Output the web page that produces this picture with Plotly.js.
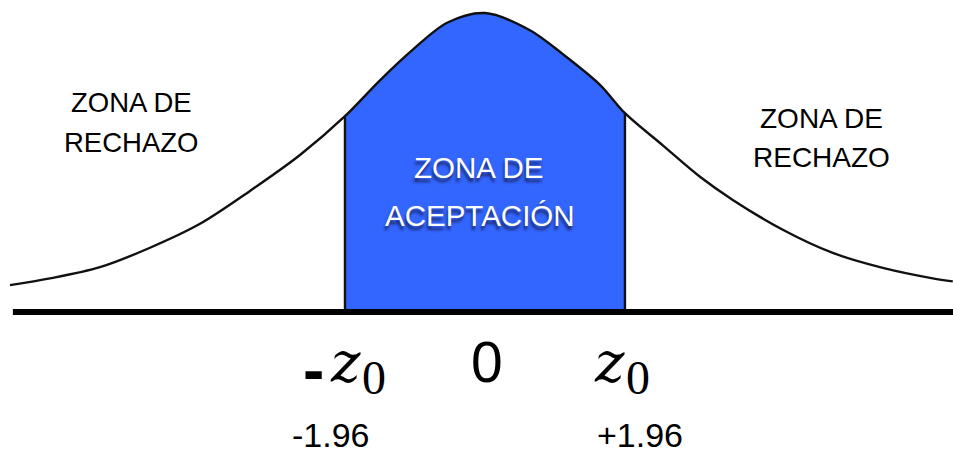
<!DOCTYPE html>
<html>
<head>
<meta charset="utf-8">
<script src="https://cdn.plot.ly/plotly-3.0.1.min.js"></script>
<style>
  html, body { margin: 0; padding: 0; background: #fff; }
  #chart { width: 953px; height: 456px; }
</style>
</head>
<body>
<div id="chart"></div>
<script>
// Normal curve with acceptance / rejection zones (two-tailed test, alpha = 0.05).
// Curve heights, x in z units.

const zVals = [-6.65, -6.09, -5.39, -4.69, -3.99, -3.29, -2.59, -1.96, -1.47, -1.01, -0.53, 0,
               0.63, 1.09, 1.61, 1.96, 2.49, 3.01, 3.47, 4.17, 4.87, 5.57, 6.27, 6.55];
const density = [0.036, 0.045, 0.060, 0.086, 0.118, 0.162, 0.210, 0.262, 0.310, 0.351, 0.387, 0.400,
                 0.377, 0.345, 0.304, 0.266, 0.223, 0.181, 0.150, 0.110, 0.079, 0.059, 0.045, 0.041];

const critical = [-1.96, 1.96];
const criticalLabels = ["-1.96", "+1.96"];
const zoneLabels = ["ZONA DE", "RECHAZO", "ACEPTACIÓN"];

// pixel -> paper helpers for the text placement
const W = 953, H = 456;
const px = (x) => x / W;
const py = (y) => 1 - y / H;

const inside = zVals.map((z, i) => i).filter((i) => zVals[i] >= critical[0] && zVals[i] <= critical[1]);
const heightAt = (z) => density[zVals.indexOf(z)];

const traces = [
  {
    x: inside.map((i) => zVals[i]),
    y: inside.map((i) => density[i]),
    type: "scatter", mode: "lines",
    line: { shape: "spline", smoothing: 0.9, width: 0, color: "#3366ff" },
    fill: "tozeroy", fillcolor: "#3366ff",
    hoverinfo: "skip",
  },
  {
    x: zVals, y: density,
    type: "scatter", mode: "lines",
    line: { shape: "spline", smoothing: 0.9, width: 2.4, color: "#111" },
    hoverinfo: "skip",
  },
  ...critical.map((c) => ({
    x: [c, c], y: [0, heightAt(c)],
    type: "scatter", mode: "lines",
    line: { width: 2.4, color: "#111" },
    hoverinfo: "skip",
  })),
  {
    x: [zVals[0] + 0.04, zVals[zVals.length - 1] + 0.1], y: [0, 0],
    type: "scatter", mode: "lines",
    line: { width: 6, color: "#000" },
    hoverinfo: "skip",
  },
];

const sans = "Liberation Sans, Arial, sans-serif";
const serif = "DejaVu Serif, serif";

function note(text, x, y, font) {
  return {
    text, xref: "paper", yref: "paper", x: px(x), y: py(y),
    xanchor: "center", yanchor: "middle", showarrow: false,
    font: { family: sans, color: "#000", ...font },
  };
}

const shadow = "-1px 4px 3px rgba(20,20,60,0.75)";

const annotations = [
  note(zoneLabels[0], 131, 103, { size: 27.5 }),
  note(zoneLabels[1], 131, 142, { size: 27.5 }),
  note(zoneLabels[0], 821, 118, { size: 28 }),
  note(zoneLabels[1], 821, 157, { size: 28 }),
  note(zoneLabels[0], 479, 167, { size: 29.5, color: "#fff", shadow }),
  note(zoneLabels[2], 480, 216, { size: 29.5, color: "#fff", shadow }),
  // -z0, 0, z0 under the axis
  note("-", 313, 370, { size: 64, weight: "bold" }),
  note("<i>z</i>", 345, 362, { size: 56, family: serif }),
  note("0", 374, 377, { size: 48, family: "Liberation Serif, serif" }),
  note("0", 487, 362, { size: 57 }),
  note("<i>z</i>", 609, 362, { size: 56, family: serif }),
  note("0", 638, 377, { size: 48, family: "Liberation Serif, serif" }),
  note(criticalLabels[0], 331, 435, { size: 34 }),
  note(criticalLabels[1], 640, 435, { size: 34 }),
];

const hidden = { visible: false, showgrid: false, zeroline: false, fixedrange: true };

const layout = {
  width: W, height: H,
  margin: { l: 0, r: 0, t: 0, b: 0 },
  paper_bgcolor: "#fff", plot_bgcolor: "#fff",
  showlegend: false,
  xaxis: { ...hidden, range: [-6.79, 6.553] },
  yaxis: { ...hidden, range: [-0.1926, 0.4174] },
  annotations,
};

Plotly.newPlot("chart", traces, layout, { displayModeBar: false, staticPlot: true });
</script>
</body>
</html>
